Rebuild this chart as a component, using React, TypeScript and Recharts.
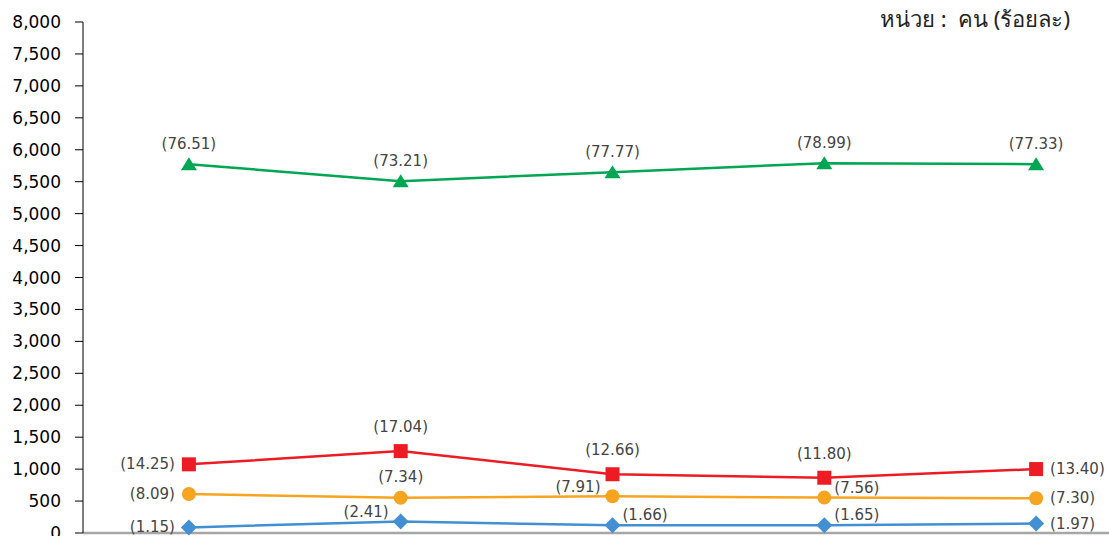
import { LineChart, Line, XAxis, YAxis } from 'recharts'

// five periods (labels are cut off below the picture)
const categories = ['1', '2', '3', '4', '5']

// number of people per group
const groupA = [5774, 5508, 5649, 5790, 5774] // green
const groupB = [1075, 1282, 920, 865, 1001] // red
const groupC = [611, 552, 575, 554, 545] // orange
const groupD = [87, 181, 121, 121, 147] // blue

// share in percent, shown as (xx.xx)
const pctA = [76.51, 73.21, 77.77, 78.99, 77.33]
const pctB = [14.25, 17.04, 12.66, 11.8, 13.4]
const pctC = [8.09, 7.34, 7.91, 7.56, 7.3]
const pctD = [1.15, 2.41, 1.66, 1.65, 1.97]

const yTicks = [0, 500, 1000, 1500, 2000, 2500, 3000, 3500, 4000, 4500, 5000, 5500, 6000, 6500, 7000, 7500, 8000]

const data = categories.map((c, i) => ({
  name: c,
  x: i + 0.5,
  a: groupA[i],
  b: groupB[i],
  c: groupC[i],
  d: groupD[i],
}))

type Pos = 'top' | 'left' | 'right' | 'topLeft' | 'topRight'

const posA: Pos[] = ['top', 'top', 'top', 'top', 'top']
const posB: Pos[] = ['left', 'top', 'top', 'top', 'right']
const posC: Pos[] = ['left', 'top', 'topLeft', 'topRight', 'right']
const posD: Pos[] = ['left', 'topLeft', 'topRight', 'topRight', 'right']

const labelFont = { fontFamily: 'DejaVu Sans', fontSize: 15, fill: '#444' }

function makeLabel(pcts: number[], pos: Pos[], up: number) {
  // eslint-disable-next-line @typescript-eslint/no-explicit-any
  return (p: any) => {
    const i = p.index
    const text = `(${pcts[i].toFixed(2)})`
    const x = p.x
    const y = p.y
    let tx = x
    let ty = y + 5
    let anchor: 'start' | 'middle' | 'end' = 'middle'
    switch (pos[i]) {
      case 'top':
        ty = y - up + 5
        break
      case 'left':
        tx = x - 14
        anchor = 'end'
        break
      case 'right':
        tx = x + 14
        anchor = 'start'
        break
      case 'topLeft':
        tx = x - 12
        ty = y - 9 + 5
        anchor = 'end'
        break
      case 'topRight':
        tx = x + 10
        ty = y - 10 + 5
        anchor = 'start'
        break
    }
    return (
      <text key={`l-${i}`} x={tx} y={ty} textAnchor={anchor} {...labelFont}>
        {text}
      </text>
    )
  }
}

// eslint-disable-next-line @typescript-eslint/no-explicit-any
const triangle = (p: any) => (
  <path key={`t-${p.index}`} d={`M${p.cx},${p.cy - 7} L${p.cx + 8},${p.cy + 6} L${p.cx - 8},${p.cy + 6} Z`} fill="#00A651" />
)
// eslint-disable-next-line @typescript-eslint/no-explicit-any
const square = (p: any) => <rect key={`s-${p.index}`} x={p.cx - 7} y={p.cy - 7} width={14} height={14} fill="#ED1C24" />
// eslint-disable-next-line @typescript-eslint/no-explicit-any
const circle = (p: any) => <circle key={`c-${p.index}`} cx={p.cx} cy={p.cy} r={7} fill="#F7A520" />
// eslint-disable-next-line @typescript-eslint/no-explicit-any
const diamond = (p: any) => (
  <path key={`d-${p.index}`} d={`M${p.cx},${p.cy - 8} L${p.cx + 8},${p.cy} L${p.cx},${p.cy + 8} L${p.cx - 8},${p.cy} Z`} fill="#428FD3" />
)

export default function App() {
  return (
    <div style={{ position: 'absolute', left: 0, top: 0, width: 1109, height: 536, overflow: 'hidden', background: '#fff' }}>
      <div
        style={{
          position: 'absolute',
          right: 39,
          top: 2,
          fontFamily: 'Noto Sans, DejaVu Sans, sans-serif',
          fontSize: 22,
          fontWeight: 400,
          color: '#222',
          whiteSpace: 'pre',
        }}
      >
        {'หน่วย :  คน (ร้อยละ)'}
      </div>
      <LineChart width={1150} height={563} data={data} margin={{ top: 22, right: 8, left: 0, bottom: 0 }}>
        <XAxis
          dataKey="x"
          type="number"
          domain={[0, 5]}
          ticks={[0, 1, 2, 3, 4, 5]}
          tick={false}
          height={30}
          axisLine={{ stroke: '#A6A6A6', strokeWidth: 2.5 }}
          tickLine={{ stroke: '#A6A6A6', strokeWidth: 1.5 }}
          tickSize={6}
        />
        <YAxis
          domain={[0, 8000]}
          ticks={yTicks}
          width={83}
          tickSize={8}
          tickMargin={14}
          axisLine={{ stroke: '#000' }}
          tickLine={{ stroke: '#000' }}
          tick={{ fill: '#000', fontSize: 17, fontFamily: 'DejaVu Sans' }}
          tickFormatter={(v: number) => v.toLocaleString('en-US')}
          interval={0}
        />
        <Line dataKey="a" stroke="#00A651" strokeWidth={2.5} dot={triangle} label={makeLabel(pctA, posA, 20)} isAnimationActive={false} />
        <Line dataKey="b" stroke="#ED1C24" strokeWidth={2.5} dot={square} label={makeLabel(pctB, posB, 24)} isAnimationActive={false} />
        <Line dataKey="c" stroke="#F7A520" strokeWidth={2.5} dot={circle} label={makeLabel(pctC, posC, 21)} isAnimationActive={false} />
        <Line dataKey="d" stroke="#428FD3" strokeWidth={2.5} dot={diamond} label={makeLabel(pctD, posD, 20)} isAnimationActive={false} />
      </LineChart>
    </div>
  )
}
